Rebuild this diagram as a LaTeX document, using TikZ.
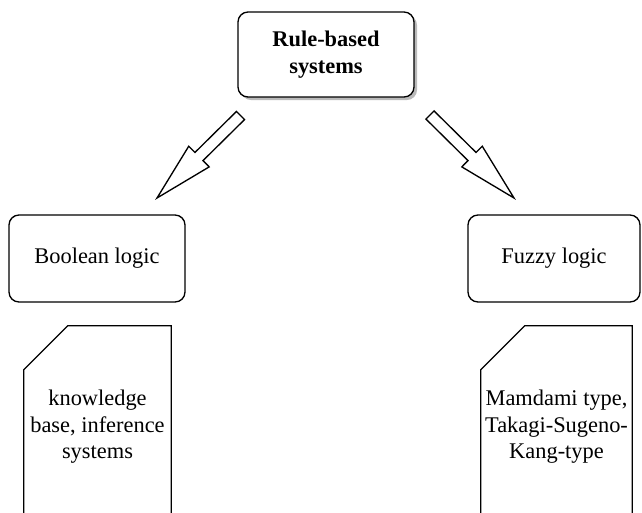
\documentclass[tikz,border=0pt]{standalone}
\usepackage{fontspec}
\setmainfont{Liberation Serif}
\usetikzlibrary{calc,shadows}
\newcommand\flexarrowdraw[2]{%
  \coordinate (fa-h) at ($(#2)!44.25pt!(#1)$);
  \draw[flexarr] ($(#1)!4.3pt!90:(#2)$) -- ($(fa-h)!4.3pt!-90:(#1)$) -- ($(fa-h)!10.9pt!-90:(#1)$) -- (#2)
    -- ($(fa-h)!10.9pt!90:(#1)$) -- ($(fa-h)!4.3pt!90:(#1)$) -- ($(#1)!4.3pt!-90:(#2)$) -- cycle;
}
\begin{document}
\begin{tikzpicture}[x=0.75pt,y=-0.75pt,
  txt/.style={font=\fontsize{16.8}{19.9}\selectfont, align=center},
  box/.style={txt, draw, line width=1pt, rounded corners=7.5pt, inner sep=0pt},
  notebox/.style={txt, inner sep=0pt},
  flexarr/.style={draw, fill=white, line width=1pt, line join=miter},
  notepath/.style={draw, line width=1pt}]
\useasboundingbox (0,0) rectangle (642,512);
\clip (0,0) rectangle (642,512);
% top node
\node[box, minimum width=132pt, minimum height=63.75pt, font=\fontsize{16.8}{19.9}\selectfont\bfseries,
  drop shadow={shadow xshift=2.25pt, shadow yshift=-2.25pt, fill=black!45, opacity=0.6}, fill=white]
  (top) at (326,54.5) {Rule-based\\systems};
\node[box, minimum width=132pt, minimum height=65.25pt] (bool) at (97,258.5) {Boolean logic};
\node[box, minimum width=129pt, minimum height=65.25pt] (fuzzy) at (554,258.5) {Fuzzy logic};
% notes
\node[notebox, minimum width=110.25pt, minimum height=151.5pt] (kb) at (97.5,427) {knowledge\\base, inference\\systems};
\node[notebox, minimum width=113.25pt, minimum height=151.5pt] (mt) at (556.5,427) {Mamdami type,\\Takagi-Sugeno-\\Kang-type};
\foreach \n in {kb,mt}{
  \draw[notepath] (\n.north east) -- (\n.south east) -- (\n.south west) -- ($(\n.north west)+(0,44)$)
    -- ($(\n.north west)+(44,0)$) -- cycle;
}
% arrows
\coordinate (s1) at (240.5,115.5);
\coordinate (e1) at (157,198);
\coordinate (s2) at (430,115);
\coordinate (e2) at (514,198);
\flexarrowdraw{s1}{e1}
\flexarrowdraw{s2}{e2}
\end{tikzpicture}
\end{document}
